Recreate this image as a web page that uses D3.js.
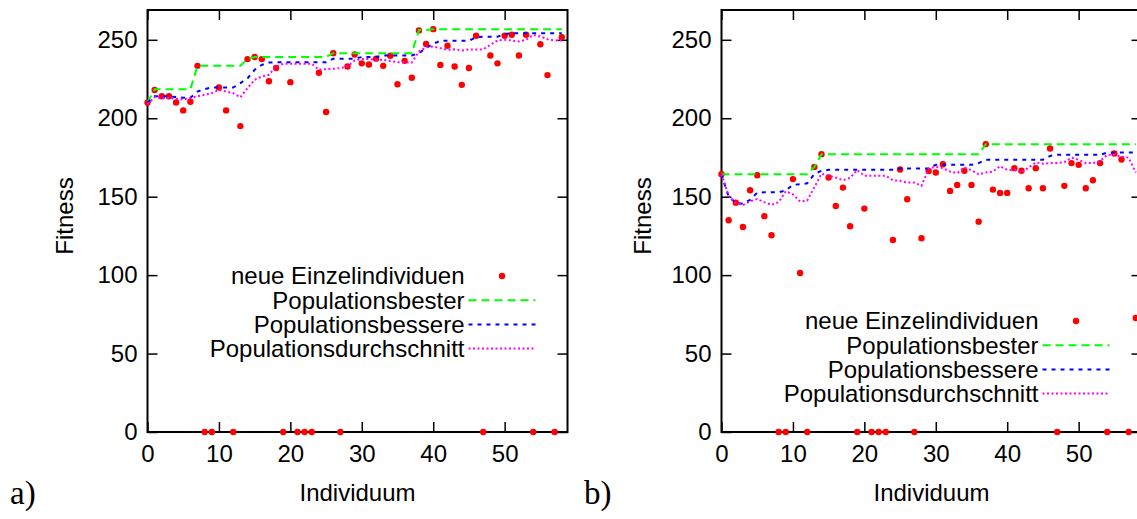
<!DOCTYPE html>
<html>
<head>
<meta charset="utf-8">
<script src="https://cdn.jsdelivr.net/npm/d3@7"></script>
<style>
body{margin:0;background:#fff;}
text{font-family:"Liberation Sans",Arial,sans-serif;}
</style>
</head>
<body>
<div id="chart"></div>
<script>
// Individuum index 0..58
var index = d3.range(0, 59);
var xTicks = [0, 10, 20, 30, 40, 50];
var yTicks = [0, 50, 100, 150, 200, 250];
var seriesNames = ["neue Einzelindividuen", "Populationsbester", "Populationsbessere", "Populationsdurchschnitt"];
var panelLabels = ["a)", "b)"];

// panel a
var einzelA = [210,218,214,214,210,205,210.5,233.4,0,0,219.6,205,0,195,237.7,239,237.7,223.6,232,0,
  223,0,0,0,229,204,241.5,0,233,240.6,235,234.3,238,233.4,239.8,221.7,236.6,225.8,256,247.4,
  256.8,234,246.2,233,221.3,232,252.6,0,240,235,252.6,253.2,240,253.2,0,247.2,227.5,0,251.7];
var besterA = [210,218.5,218.5,218.5,218.5,218.5,218.5,233.4,233.4,233.4,233.4,233.4,233.4,233.4,237.7,239,239,239,239,239,
  239,239,239,239,239,239,241.5,241.5,241.5,241.5,241.5,241.5,241.5,241.5,241.5,241.5,241.5,241.5,256.2,256.2,
  256.8,256.8,256.8,256.8,256.8,256.8,256.8,256.8,256.8,256.8,256.8,256.8,256.8,256.8,256.8,256.8,256.8,256.8,256.8];
var bessereA = [210,214,214,214,213.5,213,213,217,218.6,219.6,219.6,219.6,219.6,222.4,225.4,230.9,234,235.5,235.7,235.7,
  235.7,235.7,235.7,235.7,235.7,235.7,238,238,238,238,239,239,239,240,240,240,240,240,241.5,244.7,
  247.4,249.4,249.4,249.4,249.4,249.4,251.7,252,252,252,253.6,254.2,254.2,254.2,254.2,254.2,254.2,254.2,254.2];
var schnittA = [209,213.5,212.8,212.8,212.5,211.9,213,213.9,215,216,218.1,217,216,213.4,219.2,224.5,226.6,227.7,233,234.7,
  234.7,234.7,234.7,234.7,230.9,231.3,231.5,232,233,236.8,237.7,237.7,237.2,237.2,236.5,235.7,235.7,235.5,242.5,245.3,
  245.7,244.7,243.6,243.9,243.2,243.9,243.9,243.9,246.8,249.6,250,249.6,248.9,250,253.2,252.1,250.4,249.6,249.6];

// panel b
var einzelB = [164.3,135,146.2,130.7,154.1,163.7,137.6,125.4,0,0,161.2,101.4,0,169,177.1,162.2,144.1,155.8,131.2,0,
  142.4,0,0,0,122.4,167.3,148.4,0,123.5,166.4,165.4,170.7,153.7,157.5,166.5,157.5,134.1,183.5,154.5,152.4,
  152.4,168.2,166.5,155.4,168.2,155.4,180.7,0,156.9,171.4,170.3,155.4,160.5,171.4,0,177.5,173.7,0,72.7];
var besterB = [164.3,164.3,164.3,164.3,164.3,164.3,164.3,164.3,164.3,164.3,164.3,164.3,164.3,169,177.1,177.1,177.1,177.1,177.1,177.1,
  177.1,177.1,177.1,177.1,177.1,177.1,177.1,177.1,177.1,177.1,177.1,177.1,177.1,177.1,177.1,177.1,177.1,183.5,183.5,183.5,
  183.5,183.5,183.5,183.5,183.5,183.5,183.5,183.5,183.5,183.5,183.5,183.5,183.5,183.5,183.5,183.5,183.5,183.5,183.5];
var bessereB = [164.3,150,146,145.5,148,152.5,152.8,152.8,152.8,154,157.5,158,158.5,164.5,166.5,167.1,167.1,167.1,167.1,167.1,
  167.1,167.1,167.1,167.1,167.1,168,168,168,168,168,170.3,170.3,170.3,170.3,170.3,170.3,171.4,173.5,173.5,173.5,
  173.5,173.5,173.5,173.5,173.5,173.5,176,176.7,176.7,176.7,176.7,176.7,176.7,176.7,178.1,178.1,178.1,178.1,178.1];
var schnittB = [164.3,150.5,146,144.6,147,148.5,146.5,144.8,146.5,153.5,151.5,146.9,147.5,156,164.7,163.3,162.2,160.5,162,167,
  163.3,163.3,163.3,163.3,160.5,160.1,159,159,156.9,168,169,168.2,166,165,168.6,166.9,164.3,165.4,166,169.5,
  167,167.1,165.4,168.6,171.8,171,171.4,171.4,172,174.9,173.5,171.4,171.4,172.7,176.7,176.7,175.4,174.9,165.4];

var w = 1137, h = 519;
var plotTop = 10, plotBottom = 432, plotW = 420;

var svg = d3.select("#chart")
    .append("svg")
    .attr("width", w)
    .attr("height", h);

function drawPanel(p){
    var xScale = d3.scaleLinear().domain([0, 58.8]).range([p.left, p.left + plotW]);
    var yScale = d3.scaleLinear().domain([0, 269]).range([plotBottom, plotTop]);
    var g = svg.append("g");

    // border
    g.append("rect")
        .attr("x", p.left).attr("y", plotTop)
        .attr("width", plotW).attr("height", plotBottom - plotTop)
        .style("fill", "none").style("stroke", "black").style("stroke-width", 2);

    // X axis
    var gx = g.append("g").attr("transform", "translate(0," + plotBottom + ")")
        .call(d3.axisBottom(xScale).tickValues(xTicks).tickSizeInner(-10).tickSizeOuter(0).tickPadding(13));
    // Y axis
    var gy = g.append("g").attr("transform", "translate(" + p.left + ",0)")
        .call(d3.axisLeft(yScale).tickValues(yTicks).tickSizeInner(-10).tickSizeOuter(0).tickPadding(10));
    // mirror ticks
    var gt = g.append("g").attr("transform", "translate(0," + plotTop + ")")
        .call(d3.axisTop(xScale).tickValues(xTicks).tickSizeInner(-10).tickSizeOuter(0).tickFormat(""));
    var gr = g.append("g").attr("transform", "translate(" + (p.left + plotW) + ",0)")
        .call(d3.axisRight(yScale).tickValues(yTicks).tickSizeInner(-10).tickSizeOuter(0).tickFormat(""));

    [gx, gy, gt, gr].forEach(function(a){
        a.select(".domain").remove();
        a.selectAll("line").style("stroke", "black").style("stroke-width", 1.5);
        a.selectAll("text").style("font-size", "24px")
            .style("font-family", '"Liberation Sans",Arial,sans-serif').attr("fill", "black");
    });

    // axis titles
    g.append("text")
        .attr("x", (p.left + p.left + plotW) / 2).attr("y", 501)
        .attr("text-anchor", "middle").style("font-size", "24px")
        .text("Individuum");
    g.append("text")
        .attr("transform", "translate(" + (p.left - p.titleOff) + ",216) rotate(-90)")
        .attr("text-anchor", "middle").style("font-size", "24px")
        .text("Fitness");

    // panel label
    g.append("text")
        .attr("x", p.labelX).attr("y", 504)
        .style("font-family", '"Liberation Serif","DejaVu Serif",serif')
        .style("font-size", "33px")
        .text(p.label);

    // points
    g.selectAll(".pt")
        .data(p.einzel)
        .enter().append("circle")
        .attr("class", "pt")
        .attr("cx", function(d, i){ return xScale(index[i]); })
        .attr("cy", function(d){ return yScale(d); })
        .attr("r", 3.2)
        .style("fill", "#ff0000");

    var line = d3.line()
        .x(function(d, i){ return xScale(index[i]); })
        .y(function(d){ return yScale(d); });

    var styles = [
        {data: p.bester, color: "#00ff00", dash: "8,5"},
        {data: p.bessere, color: "#0000ff", dash: "4,5"},
        {data: p.schnitt, color: "#ff00ff", dash: "2,2.5"}
    ];
    styles.forEach(function(s){
        g.append("path")
            .datum(s.data)
            .attr("d", line)
            .style("fill", "none")
            .style("stroke", s.color)
            .style("stroke-width", 2)
            .style("stroke-dasharray", s.dash);
    });

    // legend
    var textRight = p.left + 317;
    var lx1 = p.left + 321, lx2 = p.left + 388;
    seriesNames.forEach(function(name, k){
        var ly = p.legendY + k * 24.2;
        g.append("text")
            .attr("x", textRight).attr("y", ly)
            .attr("dy", "0.35em")
            .attr("text-anchor", "end")
            .style("font-size", "24px")
            .text(name);
        if (k === 0) {
            g.append("circle")
                .attr("cx", (lx1 + lx2) / 2).attr("cy", ly)
                .attr("r", 3.2).style("fill", "#ff0000");
        } else {
            var s = styles[k - 1];
            g.append("line")
                .attr("x1", lx1).attr("x2", lx2)
                .attr("y1", ly).attr("y2", ly)
                .style("stroke", s.color).style("stroke-width", 2)
                .style("stroke-dasharray", s.dash);
        }
    });
}

drawPanel({left: 147.5, einzel: einzelA, bester: besterA, bessere: bessereA, schnitt: schnittA,
    legendY: 276, titleOff: 75, label: panelLabels[0], labelX: 10});
drawPanel({left: 721.5, einzel: einzelB, bester: besterB, bessere: bessereB, schnitt: schnittB,
    legendY: 321, titleOff: 71, label: panelLabels[1], labelX: 584});
</script>
</body>
</html>
